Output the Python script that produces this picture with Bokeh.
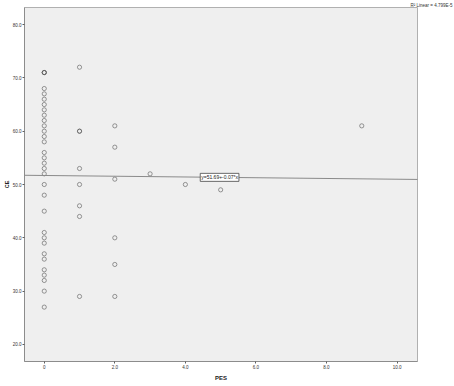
from bokeh.plotting import figure
from bokeh.models import ColumnDataSource, Range1d, Label, FixedTicker, Slope, Title
from bokeh.embed import file_html
from bokeh.resources import INLINE

# ---- data ----
pes_0_scores = [71, 71, 71, 68, 67, 66, 65, 64, 63, 62, 61, 60, 59, 58, 56, 55, 54, 53, 52, 50, 48, 45,
                41, 40, 39, 37, 36, 34, 33, 32, 30, 27]
pes_1_scores = [72, 60, 60, 53, 50, 46, 44, 29]
pes_2_scores = [61, 57, 51, 40, 35, 29]
pes_other = [3, 4, 5, 9]
pes_other_scores = [52, 50, 49, 61]

pes_values = [0] * len(pes_0_scores) + [1] * len(pes_1_scores) + [2] * len(pes_2_scores) + pes_other
score_values = pes_0_scores + pes_1_scores + pes_2_scores + pes_other_scores

fit_intercept = 51.69
fit_slope = -0.07
fit_text = "y=51.69+-0.07*x"
r2_text = "R\u00b2 Linear = 4.799E-5"

x_ticks = [0, 2, 4, 6, 8, 10]
x_tick_labels = {0: "0", 2: "2.0", 4: "4.0", 6: "6.0", 8: "8.0", 10: "10.0"}
y_ticks = [20, 30, 40, 50, 60, 70, 80]
y_tick_labels = {20: "20.0", 30: "30.0", 40: "40.0", 50: "50.0", 60: "60.0", 70: "70.0", 80: "80.0"}
x_title = "PES"
y_title = "CE"

FONT = "Liberation Sans"

p = figure(width=454, height=386, output_backend="svg", toolbar_location=None,
           x_range=Range1d(-0.56, 10.58), y_range=Range1d(16.8, 83.2),
           min_border_left=0, min_border_right=37, min_border_top=7, min_border_bottom=25)

p.background_fill_color = "#efefef"
p.border_fill_color = "white"
p.outline_line_color = "#b0b0b0"
p.xgrid.visible = False
p.ygrid.visible = False

for ax in (p.xaxis[0], p.yaxis[0]):
    ax.axis_line_color = "#8c8c8c"
    ax.major_tick_line_color = "#606060"
    ax.major_tick_out = 2
    ax.major_tick_in = 0
    ax.minor_tick_line_color = None
    ax.major_label_text_font = FONT
    ax.major_label_text_font_size = "4.5px"
    ax.major_label_text_color = "#333333"
    ax.major_label_standoff = 1
    ax.axis_label_text_font = FONT
    ax.axis_label_text_font_style = "bold"
    ax.axis_label_text_font_size = "6px"
    ax.axis_label_text_color = "#222222"

p.yaxis.axis_label_text_font_size = "5.5px"
p.xaxis.ticker = FixedTicker(ticks=x_ticks)
p.xaxis.major_label_overrides = x_tick_labels
p.yaxis.ticker = FixedTicker(ticks=y_ticks)
p.yaxis.major_label_overrides = y_tick_labels
p.xaxis.axis_label = x_title
p.xaxis.axis_label_standoff = 3
p.yaxis.axis_label = y_title
p.yaxis.axis_label_standoff = 0

src = ColumnDataSource(dict(x=pes_values, y=score_values))
p.scatter("x", "y", source=src, marker="circle", size=4.2, fill_color=None,
          line_color="#555555", line_alpha=0.75, line_width=0.8)

p.add_layout(Slope(gradient=fit_slope, y_intercept=fit_intercept, line_color="#8a8a8a", line_width=1))

fx = 4.97
p.add_layout(Label(x=fx, y=fit_intercept + fit_slope * fx, text=fit_text, text_font=FONT,
                   text_font_size="5px", text_color="#222222", text_align="center",
                   text_baseline="middle", background_fill_color="white",
                   border_line_color="#444444", border_line_width=0.8,
                   padding=1))

# fit legend text at the top right, outside the plot area
p.add_layout(Title(text=r2_text, align="right", offset=-35, standoff=0,
                   text_font=FONT, text_font_size="4.5px", text_font_style="normal",
                   text_color="#333333", vertical_align="bottom"), "above")

open("out.html", "w").write(file_html(p, INLINE))
